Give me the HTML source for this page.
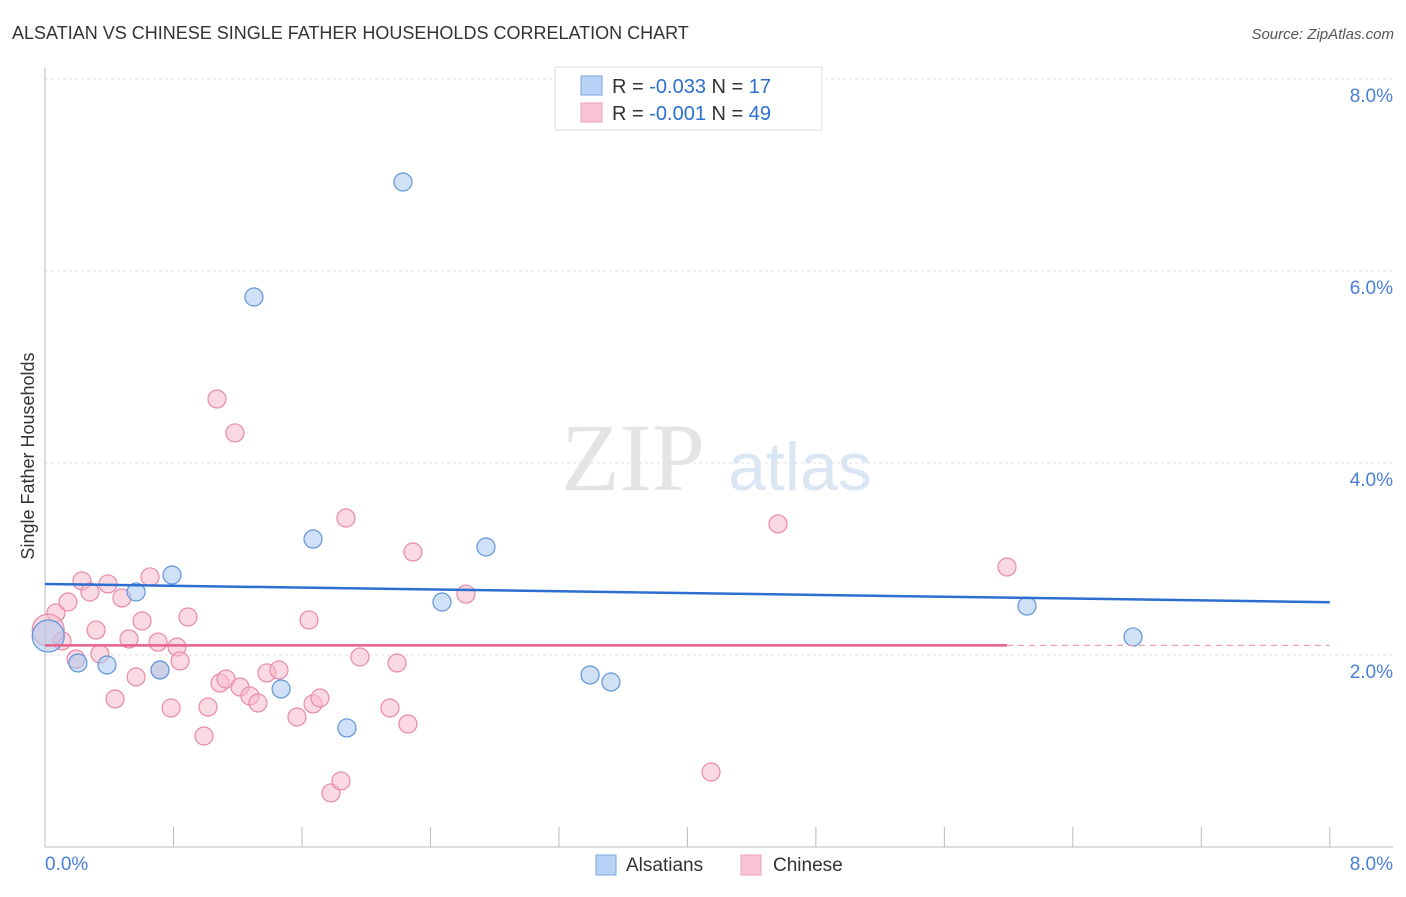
<!DOCTYPE html>
<html><head><meta charset="utf-8"><style>
body{margin:0;background:#fff;font-family:"Liberation Sans",sans-serif}
svg text{font-family:"Liberation Sans",sans-serif}
</style></head><body>
<svg width="1406" height="892" id="chart">
<text x="12" y="39" font-size="18" fill="#333">ALSATIAN VS CHINESE SINGLE FATHER HOUSEHOLDS CORRELATION CHART</text>
<text x="1394" y="39" font-size="15" fill="#555" text-anchor="end" font-style="italic">Source: ZipAtlas.com</text>
<text x="633" y="490" font-size="96" fill="#e4e4e4" font-family="Liberation Serif" text-anchor="middle" style="font-family:'Liberation Serif',serif">ZIP</text>
<text x="800" y="490" font-size="68" fill="#dbe6f5" text-anchor="middle">atlas</text>
<text transform="translate(34,456) rotate(-90)" font-size="18" fill="#333" text-anchor="middle">Single Father Households</text>
<g id="grid"></g><g id="axes"></g><g id="points"></g><g id="lines"></g>
<g>
<rect x="555" y="67" width="267" height="63" fill="#fff" stroke="#ddd"/>
<rect x="581" y="76" width="21" height="19" fill="#b8d3f5" stroke="#7aa6e0"/>
<rect x="581" y="103" width="21" height="19" fill="#f9c5d5" stroke="#eea0b8"/>
<text x="612" y="93" font-size="20" fill="#333">R = <tspan fill="#2c6fd1">-0.033</tspan>   N =  <tspan fill="#2c6fd1">17</tspan></text>
<text x="612" y="120" font-size="20" fill="#333">R = <tspan fill="#2c6fd1">-0.001</tspan>   N = <tspan fill="#2c6fd1">49</tspan></text>
</g>
<g>
<rect x="596" y="855" width="20" height="20" fill="#b8d3f5" stroke="#7aa6e0"/>
<text x="626" y="871" font-size="19" fill="#333">Alsatians</text>
<rect x="741" y="855" width="20" height="20" fill="#f9c5d5" stroke="#eea0b8"/>
<text x="773" y="871" font-size="19" fill="#333">Chinese</text>
</g>
</svg>
<script>
const yTicks=[2,4,6,8];
const yTickLabels=["2.0%","4.0%","6.0%","8.0%"];
const xTickLabels=["0.0%","8.0%"];
const blueX=[0.205,0.386,0.567,0.791,0.716,1.301,1.470,1.669,1.880,2.229,2.472,2.746,3.394,3.524,6.115,6.775,0.02];
const blueY=[1.917,1.896,2.656,2.833,1.844,5.729,1.646,3.208,1.240,6.927,2.552,3.125,1.792,1.719,2.510,2.188,2.198];
const pinkX=[0.068,0.106,0.143,0.193,0.230,0.280,0.318,0.342,0.392,0.436,0.479,0.523,0.567,0.604,0.654,0.704,0.716,0.785,0.822,0.841,0.890,0.990,1.015,1.071,1.090,1.127,1.183,1.214,1.276,1.326,1.382,1.457,1.569,1.644,1.669,1.712,1.781,1.843,1.874,1.961,2.148,2.192,2.260,2.291,2.621,4.147,4.564,5.990,0.02];
const pinkY=[2.438,2.146,2.552,1.958,2.771,2.656,2.260,2.010,2.740,1.542,2.594,2.167,1.771,2.354,2.813,2.135,1.844,1.448,2.083,1.938,2.396,1.156,1.458,4.667,1.708,1.750,4.313,1.667,1.573,1.500,1.813,1.844,1.354,2.365,1.490,1.552,0.563,0.688,3.427,1.979,1.448,1.917,1.281,3.073,2.635,0.781,3.365,2.917,2.26];
const blueTrend=[2.74,2.55];
const pinkTrend=[2.10,2.10];
const pinkTrendEnd=5.99;
const NS="http://www.w3.org/2000/svg";
const X=v=>45+v*160.6, Y=v=>847-v*96;
function mk(t,a,p){const e=document.createElementNS(NS,t);for(const k in a)e.setAttribute(k,a[k]);document.getElementById(p).appendChild(e);return e;}
yTicks.forEach((t,i)=>{
 let l=mk('line',{x1:45,x2:1393,y1:Y(t),y2:Y(t),stroke:'#e2e2e2','stroke-dasharray':'3,3'},'grid');
 
 
 let tx=mk('text',{x:1393,y:Y(t)+23,'font-size':19,fill:'#4a7fd8','text-anchor':'end'},'grid');
 tx.textContent=yTickLabels[i];
 
 
});
let ax=mk('line',{x1:45,x2:45,y1:68,y2:847,stroke:'#bbb'},'axes');


let bx=mk('line',{x1:45,x2:1393,y1:847,y2:847,stroke:'#bbb'},'axes');


for(let i=0;i<=10;i++){let t=mk('line',{x1:X(i*0.8),x2:X(i*0.8),y1:827,y2:847,stroke:'#bbb'},'axes');
 
 }
[[0,'start',45],[8,'end',1393]].forEach((d,i)=>{let t=mk('text',{x:d[2],y:870,'font-size':19,fill:'#4a7fd8','text-anchor':d[1]},'axes');t.textContent=xTickLabels[i];
 
 });
function pts(xs,ys,fill,stroke,name){xs.forEach((x,i)=>{const big=i===xs.length-1;
 let c=mk('circle',{cx:X(x),cy:Y(ys[i]),r:big?16:9,fill:fill,'fill-opacity':0.55,stroke:stroke,'stroke-width':1.2},'points');
 
 });}
pts(pinkX,pinkY,'#f7b9cc','#e889a8','chinese-point');
pts(blueX,blueY,'#a9c8f0','#5f95dc','alsatian-point');
let bl=mk('line',{x1:X(0),y1:Y(blueTrend[0]),x2:X(8),y2:Y(blueTrend[1]),stroke:'#2c6fd1','stroke-width':2.5},'lines');


const pe=pinkTrend[0]+(pinkTrend[1]-pinkTrend[0])*pinkTrendEnd/8;
let pl=mk('line',{x1:X(0),y1:Y(pinkTrend[0]),x2:X(pinkTrendEnd),y2:Y(pe),stroke:'#e8608a','stroke-width':2.5},'lines');


let pd=mk('line',{x1:X(pinkTrendEnd),y1:Y(pe),x2:X(8),y2:Y(pinkTrend[1]),stroke:'#e8a0b8','stroke-width':1.2,'stroke-dasharray':'6,5'},'lines');


</script>
</body></html>
